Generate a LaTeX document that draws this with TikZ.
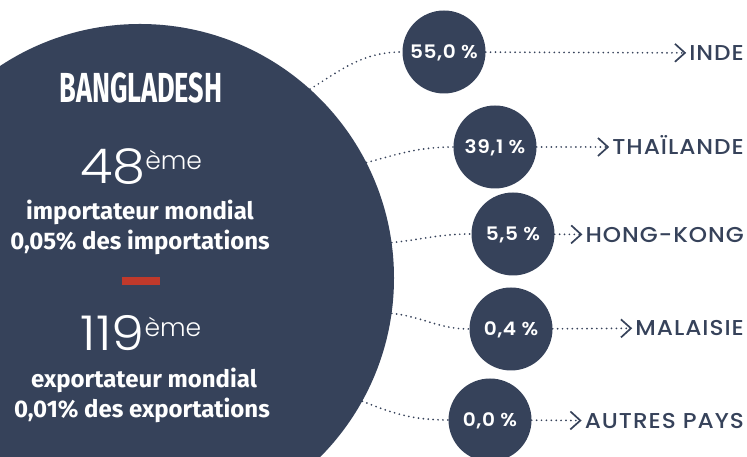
\documentclass[tikz,border=0pt]{standalone}
\usepackage{fontspec}
\setmainfont{Fira Sans}
\newfontfamily\titlefont[FakeStretch=0.645]{Fira Sans}
\newfontfamily\labelfont[FakeStretch=1.08,LetterSpace=4.5]{Poppins Medium}
\newfontfamily\pctfont[FakeStretch=1.08,LetterSpace=3]{Poppins SemiBold}
\newfontfamily\numfont[FakeStretch=1.1]{Poppins Light}
\newfontfamily\supfont{Poppins Light}
\usetikzlibrary{positioning, arrows.meta}
\definecolor{navy}{RGB}{54,66,90}
\definecolor{brick}{RGB}{192,57,43}
\newcommand\fsz[1]{\fontsize{#1}{#1}\selectfont}

\begin{document}
\begin{tikzpicture}[x=1pt,y=1pt,
  disc/.style={circle,fill=navy,inner sep=0pt},
  big/.style={disc,minimum size=508pt},
  pct/.style={disc,minimum size=83pt,text=white,font=\pctfont\fsz{18.6},text height=13pt,text depth=0pt},
  country/.style={anchor=east,text=navy,font=\labelfont\fsz{21.5},inner sep=3pt,text height=15pt,text depth=0pt},
  txt/.style={text=white,anchor=base,inner sep=0pt},
  desc/.style={txt,font=\bfseries\fsz{24}},
  bar/.style={fill=brick,minimum width=38pt,minimum height=8pt,inner sep=0pt},
  link/.style={navy,line width=1.9pt,dash pattern=on 0pt off 4.9pt,line cap=round},
  arrow/.style={link,-{Straight Barb[length=10pt,width=18pt,line width=1.7pt]}}]

   \useasboundingbox (0,0) rectangle (747,457);
   \clip (0,0) rectangle (747,457);

   % main country
   \node[big] (bd) at (140,179) {};
   \node[txt,font=\titlefont\bfseries\fsz{42}] (t_0) at (141,354) {BANGLADESH};
   \node[txt] (r_1) at (141,273) {{\numfont\fsz{48}48}\raisebox{14pt}{\supfont\fsz{25}ème}};
   \node[desc] (d_1) at (140,237) {importateur mondial};
   \node[desc] (s_1) at (140,207) {0,05\% des importations};
   \node[bar] (sep) at (141,176) {};
   \node[txt] (r_2) at (141,106) {{\numfont\fsz{48}119}\raisebox{14pt}{\supfont\fsz{25}ème}};
   \node[desc] (d_2) at (144,69) {exportateur mondial};
   \node[desc] (s_2) at (142,39) {0,01\% des exportations};

   % partners
   \node[pct] (p_1) at (444,405) {55,0 \%};
   \node[pct] (p_2) at (495,310) {39,1 \%};
   \node[pct] (p_3) at (513,223) {5,5 \%};
   \node[pct] (p_4) at (511,128) {0,4 \%};
   \node[pct] (p_5) at (490,37) {0,0 \%};

   \node[country] (c_1) at (747,404) {INDE};
   \node[country] (c_2) at (747,310) {THAÏLANDE};
   \node[country] (c_3) at (747,222) {HONG-KONG};
   \node[country] (c_4) at (747,129) {MALAISIE};
   \node[country] (c_5) at (747,36) {AUTRES PAYS};

   \path[link]
    (bd.48) edge[out=32,in=180] (p_1)
    (bd.27) edge[out=15,in=180] (p_2)
    (bd.8) edge[out=6,in=180] (p_3)
    (bd.-8.5) edge[out=-6,in=180] (p_4)
    (bd.-29.5) edge[out=-22,in=180] (p_5);

   \path[arrow]
    (p_1) edge (c_1)
    (p_2) edge (c_2)
    (p_3) edge (c_3)
    (p_4) edge (c_4)
    (p_5) edge (c_5);

\end{tikzpicture}
\end{document}
